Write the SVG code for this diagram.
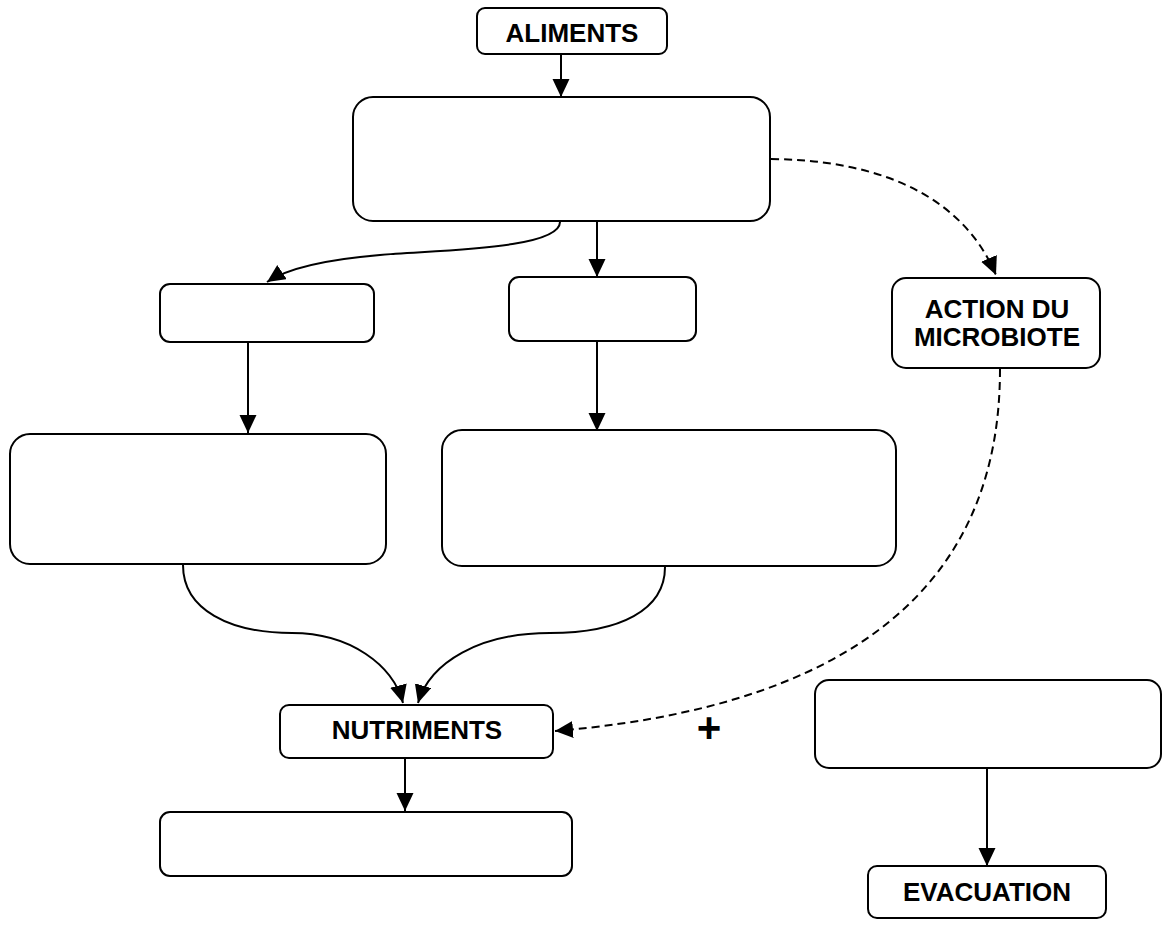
<svg xmlns="http://www.w3.org/2000/svg" width="1162" height="925" viewBox="0 0 1162 925">
<defs>
<marker id="ah" markerUnits="userSpaceOnUse" markerWidth="19" markerHeight="18" refX="18" refY="8.5" orient="auto">
<path d="M0,0 L18,8.5 L0,17 Z" fill="#000"/>
</marker>
<style>
.box{fill:#fff;stroke:#000;stroke-width:2}
.lbl{font-family:"Liberation Sans",Arial,sans-serif;font-weight:bold;font-size:26px;fill:#000;text-anchor:middle}
.c{fill:none;stroke:#000;stroke-width:2;marker-end:url(#ah)}
.d{fill:none;stroke:#000;stroke-width:2;stroke-dasharray:8 5;marker-end:url(#ah)}
</style>
</defs>
<rect width="1162" height="925" fill="#fff"/>
<g id="connectors">
<path class="c" d="M561,54 L561,97"/>
<path class="c" d="M560,222 C560,250 430,250 380,255 C320,260 285,270 267,282"/>
<path class="c" d="M597,222 L597,277"/>
<path class="c" d="M248,342 L248,433"/>
<path class="c" d="M597,341 L597,431"/>
<path class="c" d="M183,565 C183,610 230,633 292,633 C350,633 393,665 403,703"/>
<path class="c" d="M665,567 C665,610 620,633 550,633 C480,633 430,662 418,703"/>
<path class="c" d="M405,758 L405,811"/>
<path class="c" d="M987,768 L987,866"/>
<path class="d" d="M771,159 C870,160 960,190 996,275"/>
<path class="d" d="M1000,369 C1000,520 930,700 555,731"/>
</g>
<g id="aliments"><rect class="box" x="477" y="8" width="190" height="46" rx="8"/><text class="lbl" x="572" y="42">ALIMENTS</text></g>
<g id="box-top"><rect class="box" x="353" y="97" width="417" height="124" rx="20"/></g>
<g id="box-left-small"><rect class="box" x="160" y="284" width="214" height="58" rx="10"/></g>
<g id="box-mid-small"><rect class="box" x="509" y="277" width="187" height="64" rx="10"/></g>
<g id="microbiote"><rect class="box" x="892" y="278" width="208" height="90" rx="14"/><text class="lbl" x="997" y="318">ACTION DU</text><text class="lbl" x="997" y="346">MICROBIOTE</text></g>
<g id="box-left-large"><rect class="box" x="10" y="434" width="376" height="130" rx="20"/></g>
<g id="box-mid-large"><rect class="box" x="442" y="430" width="454" height="136" rx="20"/></g>
<g id="nutriments"><rect class="box" x="280" y="705" width="273" height="53" rx="9"/><text class="lbl" x="417" y="739">NUTRIMENTS</text></g>
<g id="plus"><text class="lbl" x="709" y="742" style="font-size:42px">+</text></g>
<g id="box-right"><rect class="box" x="815" y="680" width="346" height="88" rx="14"/></g>
<g id="box-bottom"><rect class="box" x="160" y="812" width="412" height="64" rx="10"/></g>
<g id="evacuation"><rect class="box" x="868" y="866" width="238" height="52" rx="9"/><text class="lbl" x="987" y="901">EVACUATION</text></g>
</svg>
